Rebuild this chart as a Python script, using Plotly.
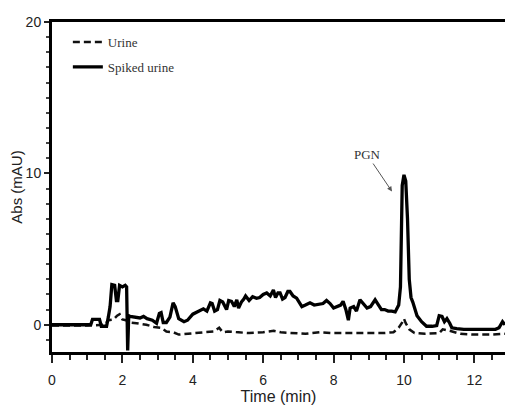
import plotly.graph_objects as go

# Spiked urine (solid)
t_spiked = [0, 0.3, 0.6, 0.9, 1.1, 1.15, 1.35, 1.4, 1.55, 1.6, 1.65, 1.7, 1.78, 1.83, 1.87, 1.92, 2.0, 2.08, 2.12, 2.15,
            2.18, 2.22, 2.35, 2.5, 2.6, 2.7, 2.85, 2.97, 3.05, 3.1, 3.16, 3.25, 3.35, 3.44, 3.5, 3.6, 3.75, 3.85, 4.0, 4.1,
            4.2, 4.3, 4.4, 4.5, 4.55, 4.62, 4.7, 4.77, 4.85, 4.96, 5.02, 5.1, 5.18, 5.25, 5.3, 5.38, 5.45, 5.5, 5.6, 5.7,
            5.81, 5.9, 6.0, 6.1, 6.2, 6.29, 6.35, 6.42, 6.48, 6.55, 6.62, 6.7, 6.76, 6.85, 6.95, 7.1, 7.2, 7.33, 7.45, 7.57,
            7.7, 7.8, 7.9, 8.0, 8.1, 8.2, 8.27, 8.35, 8.42, 8.47, 8.57, 8.65, 8.75, 8.85, 8.95, 9.05, 9.18, 9.25, 9.36, 9.45,
            9.55, 9.65, 9.75, 9.85, 9.9, 9.95, 10.0, 10.05, 10.1, 10.15, 10.2, 10.25, 10.37, 10.5, 10.64, 10.8, 10.93, 11.0,
            11.08, 11.15, 11.22, 11.3, 11.36, 11.5, 11.7, 12.0, 12.3, 12.6, 12.7, 12.8, 12.87]
v_spiked = [0, 0.0, 0.05, 0.0, 0.0, 0.35, 0.35, -0.1, -0.1, 0.5, 1.2, 2.65, 2.6, 1.6, 1.6, 2.6, 2.5, 2.6, 2.5, -1.7,
            0.6, 0.55, 0.5, 0.45, 0.55, 0.4, 0.3, 0.1, 0.75, 0.8, 0.15, 0.15, 0.5, 1.45, 1.2, 0.4, 0.2, 0.3, 0.7, 0.8,
            0.9, 1.05, 0.9, 1.45, 1.4, 0.9, 1.0, 1.6, 1.5, 1.0, 1.6, 1.55, 1.2, 1.65, 1.1, 1.5, 1.7, 1.9, 1.6, 1.85,
            1.75, 1.8, 2.0, 2.1, 1.9, 2.3, 1.8, 2.1, 2.1, 1.7, 1.8, 2.2, 2.2, 1.9, 1.76, 1.2, 1.3, 1.45, 1.3, 1.35,
            1.4, 1.6, 1.4, 1.1, 1.2, 1.3, 1.55, 1.0, 0.3, 1.1, 1.2, 0.9, 1.65, 1.4, 1.1, 1.2, 1.65, 1.4, 1.0, 1.0,
            0.9, 0.9, 0.85, 1.3, 2.5, 9.2, 9.9, 9.5, 7.0, 3.0, 1.8, 1.5, 0.6, 0.2, -0.1, -0.1, -0.05, 0.6,
            0.55, 0.2, 0.4, 0.1, -0.2, -0.25, -0.3, -0.3, -0.3, -0.3, -0.2, 0.2, 0.0]

# Urine (dashed)
t_urine = [0, 0.5, 1.0, 1.5, 1.6, 1.75, 1.85, 1.92, 2.0, 2.1, 2.15, 2.2, 2.4, 2.68, 2.9, 3.1, 3.25, 3.45, 3.6, 3.8,
           4.0, 4.3, 4.6, 4.75, 4.85, 5.0, 5.3, 5.6, 6.0, 6.3, 6.5, 6.8, 7.2, 7.6, 8.0, 8.5, 9.0, 9.4, 9.7, 9.85,
           9.95, 10.0, 10.05, 10.15, 10.3, 10.6, 11.0, 11.1, 11.3, 11.6, 12.0, 12.5, 12.87]
v_urine = [-0.05, -0.05, -0.05, 0.0, 0.3, 0.35, 0.6, 0.7, 0.35, 0.3, 0.2, 0.15, 0.1, 0.0, -0.15, -0.2, -0.45, -0.5, -0.65, -0.6,
           -0.55, -0.5, -0.45, -0.2, -0.5, -0.45, -0.5, -0.55, -0.5, -0.4, -0.5, -0.55, -0.6, -0.5, -0.55, -0.55, -0.55, -0.55, -0.5, -0.2,
           0.15, 0.4, 0.1, -0.3, -0.55, -0.6, -0.55, -0.3, -0.4, -0.6, -0.65, -0.65, -0.6]

x_ticks = [0, 2, 4, 6, 8, 10, 12]
y_ticks = [0, 10, 20]

fig = go.Figure()
fig.add_trace(go.Scatter(x=t_urine, y=v_urine, mode="lines", name="Urine", legendgroup="a",
                         line=dict(color="#111", width=2.5, dash="7px,4px")))
fig.add_trace(go.Scatter(x=t_spiked, y=v_spiked, mode="lines", name="Spiked urine", legendgroup="b",
                         line=dict(color="#000", width=3.3)))

fig.add_annotation(x=9.66, y=8.8, xref="x", yref="y", text="PGN", showarrow=True,
                   ax=-25, ay=-37, arrowhead=2, arrowsize=1, arrowwidth=1, arrowcolor="#555",
                   font=dict(family="Times New Roman, Liberation Serif, serif", size=13, color="#333"))

tickfont = dict(family="Arial, Liberation Sans, sans-serif", size=14, color="#222")
fig.update_layout(
    width=505, height=407,
    margin=dict(l=52, r=0, t=22, b=55),
    paper_bgcolor="white", plot_bgcolor="white",
    showlegend=True,
    legend=dict(x=0.035, y=0.985, xanchor="left", yanchor="top", bgcolor="rgba(0,0,0,0)",
                traceorder="grouped", tracegroupgap=5,
                font=dict(family="Times New Roman, Liberation Serif, serif", size=13, color="#333")),
    xaxis=dict(range=[0, 12.87], tickvals=x_ticks, ticktext=[str(v) for v in x_ticks], automargin=False,
               showgrid=False, zeroline=False, showline=True, linecolor="#000", linewidth=3,
               mirror=True, ticks="outside", ticklen=8, tickwidth=1.5, tickcolor="#222",
               minor=dict(dtick=0.5, ticks="outside", ticklen=5, tickwidth=1.5, tickcolor="#222"),
               tickfont=tickfont, ticklabelstandoff=5,
               title=dict(text="Time (min)", standoff=0,
                          font=dict(family="Arial, Liberation Sans, sans-serif", size=16, color="#222"))),
    yaxis=dict(range=[-1.8, 20], tickvals=y_ticks, ticktext=[str(v) for v in y_ticks], automargin=False,
               showgrid=False, zeroline=False, showline=True, linecolor="#000", linewidth=3,
               ticks="outside", ticklen=5, tickwidth=1.5, tickcolor="#222",
               minor=dict(dtick=1, ticks="outside", ticklen=3, tickwidth=1.5, tickcolor="#444"),
               tickfont=tickfont,
               title=dict(text="Abs (mAU)", standoff=0,
                          font=dict(family="Arial, Liberation Sans, sans-serif", size=15, color="#222"))),
)

fig.write_html("out.html", config={"displayModeBar": False},
               post_script="document.body.style.margin='0';document.body.style.overflow='hidden';")
